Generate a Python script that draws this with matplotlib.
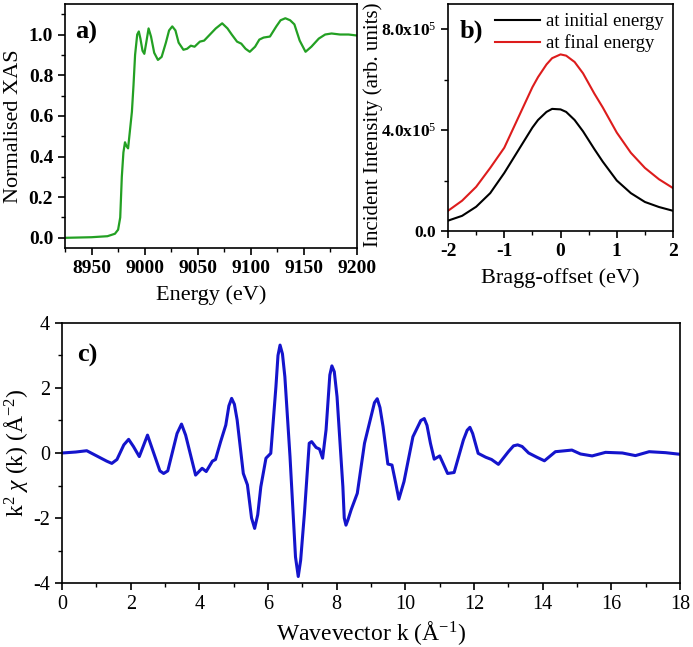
import matplotlib
matplotlib.use('Agg')
import matplotlib.pyplot as plt
from matplotlib.ticker import MultipleLocator, FixedLocator, FormatStrFormatter

plt.rcParams.update({'font.size'          : 14,
                     'font.family'        : 'Liberation Serif',
                     'mathtext.fontset'   : 'custom',
                     'mathtext.rm'        : 'Liberation Serif',
                     'mathtext.it'        : 'Liberation Serif:italic',
                     'mathtext.bf'        : 'Liberation Serif:bold',
                     'axes.unicode_minus' : False,
                     'xtick.direction'    : 'out',
                     'ytick.direction'    : 'out',
                     'axes.linewidth'     : 1.2,
                     'xtick.major.width'  : 1.2,
                     'ytick.major.width'  : 1.2,
                     'xtick.minor.width'  : 1.0,
                     'ytick.minor.width'  : 1.0,
                     'xtick.major.size'   : 5,
                     'ytick.major.size'   : 5,
                     'xtick.minor.size'   : 3,
                     'ytick.minor.size'   : 3,
                    })

### a) normalised XAS
energy = [8925, 8950, 8965, 8972, 8975, 8977, 8978.5, 8980, 8981.5, 8983, 8984.4,
          8986, 8988, 8989.5, 8991, 8993, 8994.5, 8996, 8998, 8999.7, 9001.5,
          9003.7, 9006, 9009, 9012.5, 9016, 9020, 9023, 9026, 9029, 9032, 9036.5,
          9040, 9043.5, 9047, 9052, 9056, 9061.5, 9067, 9073, 9078, 9082, 9087,
          9091, 9095, 9099, 9104, 9108, 9112, 9118, 9124, 9128, 9132.5, 9137,
          9141, 9146, 9151.5, 9157, 9164, 9170, 9176, 9184, 9192, 9200]
xas = [0.0, 0.003, 0.008, 0.02, 0.04, 0.1, 0.3, 0.42, 0.47, 0.45, 0.44,
       0.52, 0.62, 0.75, 0.9, 1.0, 1.015, 0.98, 0.92, 0.905, 0.96,
       1.03, 0.99, 0.91, 0.875, 0.89, 0.96, 1.02, 1.04, 1.02, 0.96, 0.925,
       0.93, 0.945, 0.94, 0.965, 0.97, 1.0, 1.03, 1.055, 1.03, 1.0, 0.965,
       0.955, 0.93, 0.915, 0.94, 0.975, 0.985, 0.99, 1.04, 1.07, 1.08, 1.07,
       1.05, 0.97, 0.915, 0.94, 0.98, 1.0, 1.005, 1.0, 1.0, 0.995]

### b) rocking curves (x1e5)
offset = [-2, -1.75, -1.5, -1.25, -1, -0.75, -0.5, -0.4, -0.25, -0.15, 0, 0.1,
          0.25, 0.4, 0.5, 0.6, 0.75, 1, 1.25, 1.5, 1.75, 2]
initial = [0.41, 0.6, 0.96, 1.5, 2.3, 3.2, 4.1, 4.4, 4.72, 4.84, 4.82, 4.72,
           4.4, 3.95, 3.6, 3.25, 2.75, 2.0, 1.5, 1.15, 0.95, 0.8]
final = [0.8, 1.2, 1.75, 2.5, 3.3, 4.5, 5.7, 6.1, 6.6, 6.85, 7.0, 6.95,
         6.7, 6.25, 5.85, 5.45, 4.9, 3.9, 3.1, 2.5, 2.05, 1.7]
initial = [v*1e5 for v in initial]
final = [v*1e5 for v in final]

### c) EXAFS k^2 chi(k)
kk = [0, 0.4, 0.72, 1.3, 1.45, 1.6, 1.8, 1.94, 2.08, 2.25, 2.49, 2.85, 2.96,
      3.08, 3.35, 3.48, 3.6, 3.89, 4.08, 4.2, 4.38, 4.47, 4.62, 4.77, 4.86,
      4.94, 5.02, 5.1, 5.28, 5.4, 5.52, 5.61, 5.7, 5.79, 5.94, 6.08, 6.23,
      6.29, 6.35, 6.42, 6.49, 6.64, 6.8, 6.88, 6.95, 7.06, 7.2, 7.27, 7.4,
      7.5, 7.59, 7.69, 7.8, 7.86, 7.93, 8.01, 8.18, 8.22, 8.27, 8.33, 8.42,
      8.6, 8.81, 9.0, 9.1, 9.18, 9.26, 9.35, 9.49, 9.61, 9.71, 9.81, 9.96,
      10.22, 10.45, 10.55, 10.63, 10.73, 10.84, 11.0, 11.23, 11.42, 11.69,
      11.8, 11.88, 11.96, 12.12, 12.34, 12.51, 12.71, 13.0, 13.15, 13.27,
      13.4, 13.59, 13.83, 14.05, 14.37, 14.85, 15.1, 15.44, 15.83, 16.32,
      16.7, 17.1, 17.58, 18.0]
chi = [0, 0.03, 0.07, -0.25, -0.32, -0.2, 0.25, 0.42, 0.2, -0.11, 0.55, -0.55, -0.63,
       -0.55, 0.6, 0.89, 0.55, -0.68, -0.47, -0.57, -0.25, -0.2, 0.35, 0.86, 1.45,
       1.68, 1.5, 1.02, -0.63, -0.98, -2.0, -2.32, -1.9, -1.04, -0.16, -0.01, 2.04,
       3.0, 3.32, 3.05, 2.35, -0.11, -3.2, -3.8, -3.3, -1.86, 0.3, 0.35, 0.17,
       0.12, -0.16, 0.71, 2.4, 2.68, 2.5, 1.73, -1.04, -2.0, -2.22, -2.05, -1.75,
       -1.24, 0.3, 1.12, 1.55, 1.67, 1.4, 0.81, -0.34, -0.37, -0.88, -1.42, -0.88,
       0.5, 1.0, 1.06, 0.85, 0.3, -0.19, -0.09, -0.63, -0.6, 0.4,
       0.7, 0.79, 0.6, -0.01, -0.13, -0.2, -0.35, 0.04, 0.22, 0.25,
       0.2, 0.0, -0.13, -0.24, 0.04, 0.09, -0.03, -0.09, 0.02, 0.0,
       -0.08, 0.04, 0.01, -0.04]


def boxaxis(ax):
    # Origin style: ticks only bottom/left, box all round
    ax.tick_params(which='both', top=False, right=False)


fig = plt.figure(figsize=(6.93, 6.47), dpi=100)
ax_a = fig.add_axes([0.0938, 0.6167, 0.4214, 0.3771])
ax_b = fig.add_axes([0.6465, 0.643, 0.3247, 0.3509])
ax_c = fig.add_axes([0.0895, 0.0989, 0.8918, 0.4019])

# a)
ax_a.plot(energy, xas, color='#23a023', lw=1.6)
ax_a.set_xlim(8925, 9200)
ax_a.set_ylim(-0.05, 1.15)
ax_a.xaxis.set_major_locator(FixedLocator([8950, 9000, 9050, 9100, 9150, 9200]))
ax_a.xaxis.set_minor_locator(MultipleLocator(25))
ax_a.yaxis.set_major_locator(MultipleLocator(0.2))
ax_a.yaxis.set_minor_locator(MultipleLocator(0.1))
ax_a.yaxis.set_major_formatter(FormatStrFormatter('%.1f'))
ax_a.set_xlabel('Energy (eV)', fontsize=16, labelpad=6)
ax_a.set_ylabel('Normalised XAS', fontsize=16)
ax_a.text(0.035, 0.93, 'a)', transform=ax_a.transAxes, fontsize=19,
          fontweight='bold', va='top')
for t in ax_a.get_xticklabels() + ax_a.get_yticklabels():
    t.set_fontweight('bold')
boxaxis(ax_a)

# b)
ax_b.plot(offset, initial, color='k', lw=1.5, label='at initial energy')
ax_b.plot(offset, final, color='#dd1c1c', lw=1.5, label='at final energy')
ax_b.set_xlim(-2, 2)
ax_b.set_ylim(0, 9e5)
ax_b.xaxis.set_major_locator(MultipleLocator(1))
ax_b.xaxis.set_minor_locator(MultipleLocator(0.5))
ax_b.set_yticks([0, 4e5, 8e5])
ax_b.set_yticklabels(['0.0', r'4.0x10$^{5}$', r'8.0x10$^{5}$'], fontsize=12.5)
ax_b.yaxis.set_minor_locator(MultipleLocator(2e5))
ax_b.set_xlabel('Bragg-offset (eV)', fontsize=16, labelpad=6)
ax_b.set_ylabel('Incident Intensity (arb. units)', fontsize=15)
ax_b.yaxis.set_label_coords(-0.29, 0.47)
ax_b.text(0.05, 0.93, 'b)', transform=ax_b.transAxes, fontsize=19,
          fontweight='bold', va='top')
ax_b.legend(loc='upper right', frameon=False, fontsize=13.5, handlelength=2.4,
            borderaxespad=0.1, labelspacing=0.2, handletextpad=0.3)
for t in ax_b.get_xticklabels() + ax_b.get_yticklabels():
    t.set_fontweight('bold')
boxaxis(ax_b)

# c)
ax_c.plot(kk, chi, color='#1414cc', lw=2.2)
ax_c.set_xlim(0, 18)
ax_c.set_ylim(-4, 4)
ax_c.xaxis.set_major_locator(MultipleLocator(2))
ax_c.xaxis.set_minor_locator(MultipleLocator(1))
ax_c.yaxis.set_major_locator(MultipleLocator(2))
ax_c.yaxis.set_minor_locator(MultipleLocator(1))
ax_c.tick_params(labelsize=14.5)
ax_c.set_xlabel(r'Wavevector k (Å$^{-1}$)', fontsize=17)
ax_c.set_ylabel(r'k$^{2}$ $\chi$ (k) (Å$^{-2}$)', fontsize=17)
ax_c.yaxis.set_label_coords(-0.052, 0.5)
ax_c.text(0.025, 0.92, 'c)', transform=ax_c.transAxes, fontsize=19,
          fontweight='bold', va='top')
boxaxis(ax_c)

fig.savefig('out.png', dpi=100)
